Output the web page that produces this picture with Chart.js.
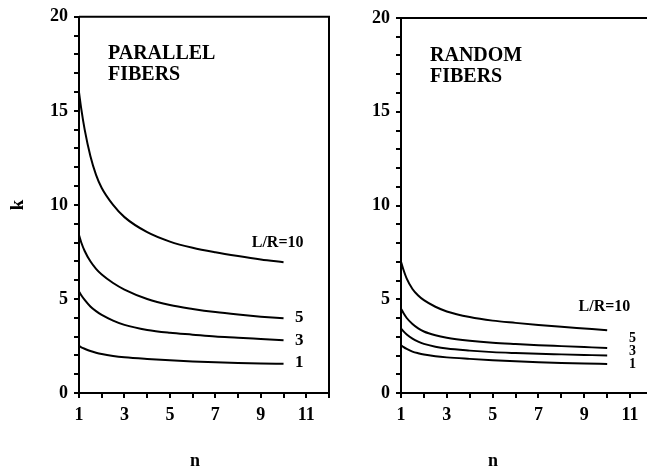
<!DOCTYPE html>
<html>
<head>
<meta charset="utf-8">
<script src="https://cdn.jsdelivr.net/npm/chart.js@4.4.1/dist/chart.umd.min.js"></script>
<style>
  html, body { margin: 0; padding: 0; background: #fff; overflow: hidden; }
  body { width: 647px; height: 466px; position: relative; }
  .panel { position: absolute; top: 0; height: 466px; }
  #left { left: 0; width: 336px; }
  #right { left: 330px; width: 330px; }
</style>
</head>
<body>
<div class="panel" id="left"><canvas id="chartParallel" width="336" height="466"></canvas></div>
<div class="panel" id="right"><canvas id="chartRandom" width="330" height="466"></canvas></div>
<script>
// n values along the x axis
const nValues = [1, 1.1, 1.25, 1.5, 1.75, 2, 2.5, 3, 4, 5, 6, 7, 8, 9, 10]

// parallel fibers, k for each L/R
const parallel10 = [16.0, 15.1, 14.0, 12.6, 11.6, 10.9, 10.0, 9.35, 8.55, 8.05, 7.72, 7.48, 7.28, 7.1, 6.95]
const parallel5 = [8.4, 8.0, 7.55, 7.0, 6.6, 6.3, 5.85, 5.5, 5.0, 4.68, 4.47, 4.3, 4.17, 4.06, 3.97]
const parallel3 = [5.4, 5.2, 4.95, 4.6, 4.35, 4.15, 3.85, 3.62, 3.35, 3.2, 3.1, 3.0, 2.94, 2.87, 2.8]
const parallel1 = [2.5, 2.43, 2.35, 2.23, 2.14, 2.07, 1.97, 1.9, 1.81, 1.74, 1.68, 1.64, 1.6, 1.57, 1.55]

// random fibers, k for each L/R
const random10 = [7.0, 6.6, 6.1, 5.55, 5.2, 4.95, 4.6, 4.35, 4.05, 3.86, 3.74, 3.63, 3.53, 3.44, 3.35]
const random5 = [4.5, 4.28, 4.0, 3.68, 3.45, 3.28, 3.08, 2.95, 2.79, 2.68, 2.61, 2.55, 2.5, 2.45, 2.4]
const random3 = [3.45, 3.3, 3.12, 2.9, 2.74, 2.62, 2.47, 2.37, 2.26, 2.18, 2.13, 2.09, 2.06, 2.03, 2.0]
const random1 = [2.55, 2.46, 2.35, 2.21, 2.12, 2.05, 1.96, 1.9, 1.82, 1.75, 1.69, 1.64, 1.6, 1.57, 1.55]

const curveNames = ['L/R=10', '5', '3', '1']
const xTickLabels = [1, 3, 5, 7, 9, 11]
const yTickLabels = [0, 5, 10, 15, 20]

const serif = '"Liberation Serif", "DejaVu Serif", serif'

const toPoints = (ys) => ys.map((y, i) => ({ x: nValues[i], y: y }))

// frame, panel title, curve labels and "n"
const decorPlugin = {
    id: 'decor',
    afterDraw(chart, args, opts) {
        const ctx = chart.ctx
        const area = chart.chartArea
        const xs = chart.scales.x
        const ys = chart.scales.y
        ctx.save()
        ctx.strokeStyle = '#000'
        ctx.lineWidth = 2
        ctx.beginPath()
        ctx.moveTo(area.left, area.top)
        ctx.lineTo(area.right, area.top)
        ctx.lineTo(area.right, area.bottom)
        ctx.stroke()

        ctx.fillStyle = '#000'
        ctx.textBaseline = 'middle'
        ctx.textAlign = 'left'
        ctx.font = 'bold 20px ' + serif
        opts.title.forEach((line, i) => {
            ctx.fillText(line, opts.titleX, opts.titleY + i * 21)
        })

        opts.labels.forEach(lab => {
            ctx.font = 'bold ' + lab.size + 'px ' + serif
            ctx.fillText(lab.text, xs.getPixelForValue(lab.x), ys.getPixelForValue(lab.y))
        })

        ctx.textAlign = 'center'
        ctx.font = 'bold 18px ' + serif
        ctx.fillText('n', opts.nX, 461)
        ctx.restore()
    }
}

const makeChart = (id, series, yWidth, top, right, decor) => {
    const ctx = document.getElementById(id).getContext('2d')
    return new Chart(ctx, {
        type: 'line',
        data: {
            datasets: series.map((s, i) => ({
                label: curveNames[i],
                data: toPoints(s),
                borderColor: '#000',
                borderWidth: 2,
                pointRadius: 0,
                cubicInterpolationMode: 'monotone',
                fill: false
            }))
        },
        options: {
            responsive: false,
            animation: false,
            layout: { padding: { top: top, right: right, left: 0, bottom: 0 } },
            plugins: {
                legend: { display: false },
                tooltip: { enabled: false },
                decor: decor
            },
            scales: {
                x: {
                    type: 'linear',
                    min: 1,
                    max: 12,
                    afterFit: (scale) => { scale.height = 466 - 393 },
                    border: { display: true, color: '#000', width: 2 },
                    grid: { drawOnChartArea: false, drawTicks: true, tickLength: 5, color: '#000', lineWidth: 2 },
                    ticks: {
                        stepSize: 1,
                        autoSkip: false,
                        maxRotation: 0,
                        padding: 7,
                        color: '#000',
                        font: { family: serif, size: 18, weight: 'bold' },
                        callback: (v) => xTickLabels.includes(v) ? String(v) : ''
                    }
                },
                y: {
                    type: 'linear',
                    min: 0,
                    max: 20,
                    afterFit: (scale) => { scale.width = yWidth },
                    border: { display: true, color: '#000', width: 2 },
                    grid: { drawOnChartArea: false, drawTicks: true, tickLength: 5, color: '#000', lineWidth: 2 },
                    title: {
                        display: decor.showK,
                        text: 'k',
                        color: '#000',
                        font: { family: serif, size: 19, weight: 'bold' },
                        padding: { top: 7, bottom: 0 }
                    },
                    ticks: {
                        stepSize: 1,
                        autoSkip: false,
                        padding: 6,
                        color: '#000',
                        font: { family: serif, size: 18, weight: 'bold' },
                        callback: (v) => yTickLabels.includes(v) ? String(v) : ''
                    }
                }
            }
        },
        plugins: [decorPlugin]
    })
}

makeChart('chartParallel', [parallel10, parallel5, parallel3, parallel1], 79, 16, 2, {
    showK: true,
    title: ['PARALLEL', 'FIBERS'],
    titleX: 108,
    titleY: 54,
    nX: 195,
    labels: [
        { text: curveNames[0], x: 8.6, y: 8.0, size: 16 },
        { text: curveNames[1], x: 10.5, y: 4.0, size: 17 },
        { text: curveNames[2], x: 10.5, y: 2.8, size: 17 },
        { text: curveNames[3], x: 10.5, y: 1.6, size: 17 }
    ]
})

makeChart('chartRandom', [random10, random5, random3, random1], 71, 18, 0, {
    showK: false,
    title: ['RANDOM', 'FIBERS'],
    titleX: 100,
    titleY: 56,
    nX: 163,
    labels: [
        { text: curveNames[0], x: 8.75, y: 4.6, size: 16 },
        { text: curveNames[1], x: 10.95, y: 2.9, size: 14 },
        { text: curveNames[2], x: 10.95, y: 2.2, size: 14 },
        { text: curveNames[3], x: 10.95, y: 1.5, size: 14 }
    ]
})
</script>
</body>
</html>
